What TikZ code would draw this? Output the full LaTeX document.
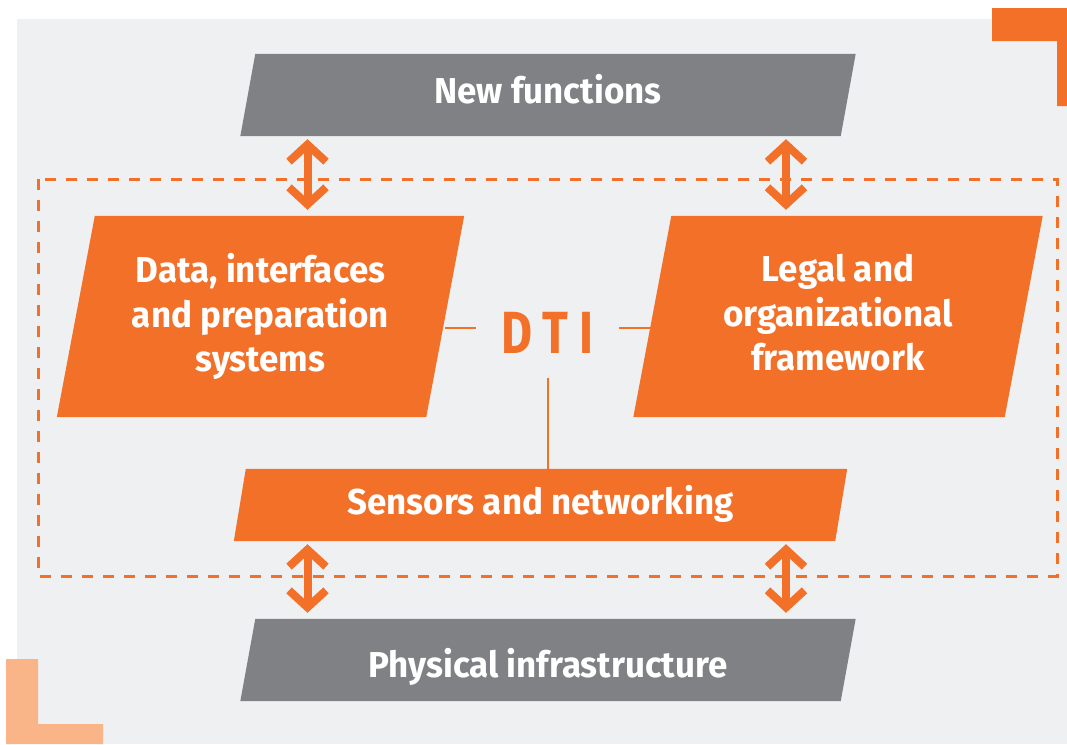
\documentclass[tikz,border=0pt]{standalone}
\usepackage{fontspec}
\setmainfont{Fira Sans}
\newfontfamily\blockfont[FakeStretch=0.97]{Fira Sans}
\newfontfamily\dtifont[FakeStretch=0.8, LetterSpace=20]{Fira Sans}
\usepackage{tikz}
\usetikzlibrary{shapes, calc, arrows.meta, backgrounds, positioning}

\definecolor{dtiorange}{RGB}{243,112,41}
\definecolor{lightorange}{RGB}{249,180,135}
\definecolor{blockgray}{RGB}{128,129,132}
\definecolor{bggray}{RGB}{239,240,242}

\tikzset{
  block/.style={inner sep=0pt, text=white, align=center,
    font=\blockfont\bfseries\fontsize{36}{44.5}\selectfont},
  dtilink/.style={dtiorange, line width=2},
  dtiarrow/.style={dtiorange, line width=8,
    {Straight Barb[length=17pt, width=37pt]}-{Straight Barb[length=17pt, width=37pt]},
    shorten <=3, shorten >=6},
}

\begin{document}
\begin{tikzpicture}[x=1pt, y=-1pt]

\useasboundingbox (0,0) rectangle (1067,744);

% blocks
\node[block, minimum width=600, minimum height=82, text height=26, text depth=10] (newf) at (548,95) {New functions};
\node[block, minimum width=369, minimum height=201, text depth=8] (data) at (260.5,316.5) {Data, interfaces\\and preparation\\systems};
\node[block, minimum width=371, minimum height=201, text depth=8] (legal) at (838,316.5) {Legal and\\organizational\\framework};
\node[block, minimum width=601, minimum height=72, text height=26, text depth=8] (sens) at (540.5,505) {Sensors and networking};
\node[block, minimum width=600, minimum height=82, text height=34, text depth=0] (phys) at (548,660) {Physical infrastructure};

\node[inner sep=25, text=dtiorange, text height=50, text depth=0,
  font=\dtifont\bfseries\fontsize{59.5}{60}\selectfont] (dti) at (547.5,328) {DTI};

\begin{scope}[on background layer]
  \fill[bggray] (17,19) rectangle (1067,744);
  \fill[dtiorange] (992,8) -- (1067,8) -- (1067,106) -- (1057,106) -- (1057,41) -- (992,41) -- cycle;
  \fill[lightorange] (6,659) -- (38,659) -- (38,724) -- (103,724) -- (103,744) -- (6,744) -- cycle;
  \foreach \n/\c/\s in {newf/blockgray/7.5, phys/blockgray/7.5, data/dtiorange/19, legal/dtiorange/19, sens/dtiorange/6}
    \fill[\c] ([xshift=\s]\n.north west) -- ([xshift=\s]\n.north east)
      -- ([xshift=-\s]\n.south east) -- ([xshift=-\s]\n.south west) -- cycle;
\end{scope}

% DTI frame
\draw[dtiorange, line width=3, dash pattern=on 11 off 10] (38,179) rectangle (1057,576);

\draw[dtilink] (dti.west) -- (dti.west -| data.east);
\draw[dtilink] (dti.east) -- (dti.east -| legal.west);
\draw[dtilink] (dti.south) -- (dti.south |- sens.north);

% arrows
\coordinate (ax1) at (307.5,0);
\coordinate (ax2) at (786,0);
\foreach \a in {ax1, ax2} {
  \draw[dtiarrow] (newf.south -| \a) -- (data.north -| \a);
  \draw[dtiarrow] (sens.south -| \a) -- (phys.north -| \a);
}

\end{tikzpicture}
\end{document}
